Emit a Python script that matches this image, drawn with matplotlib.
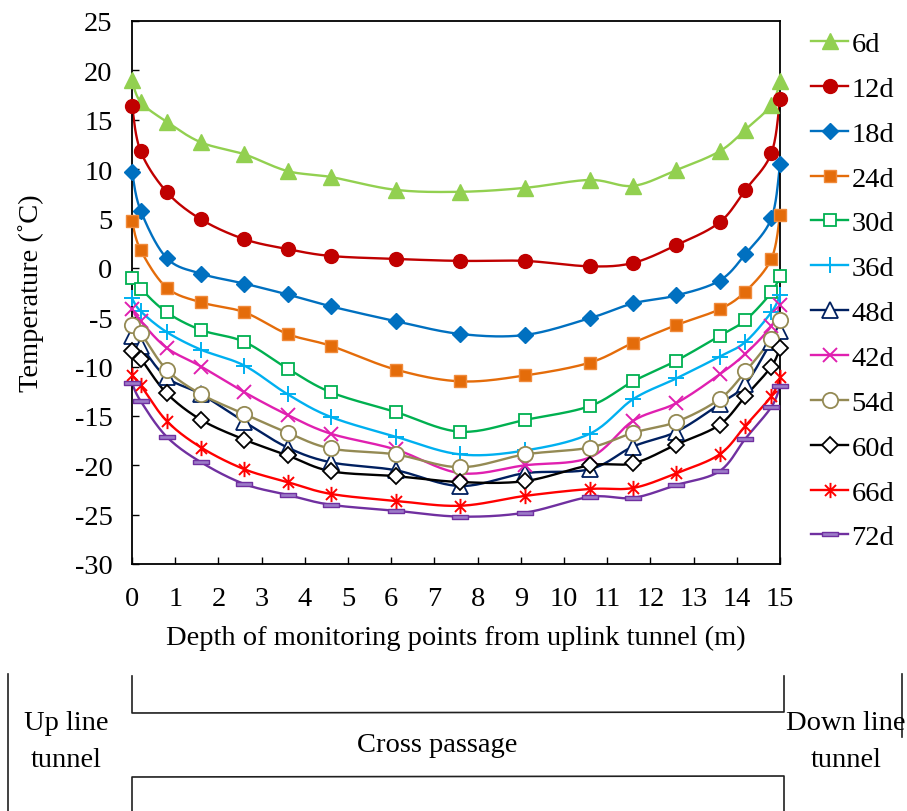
import numpy as np
import matplotlib
matplotlib.use("Agg")
import matplotlib.pyplot as plt
from matplotlib.path import Path
from matplotlib.lines import Line2D

plt.rcParams['font.family'] = ['Liberation Serif', 'DejaVu Serif']
plt.rcParams['axes.unicode_minus'] = False

depth = [0, 0.2, 0.8, 1.6, 2.6, 3.6, 4.6, 6.1, 7.6, 9.1, 10.6, 11.6, 12.6, 13.6, 14.2, 14.8, 15]

labels = ["6d", "12d", "18d", "24d", "30d", "36d", "48d", "42d", "54d", "60d", "66d", "72d"]

t6 = [19.0, 16.8, 14.8, 12.7, 11.5, 9.8, 9.2, 7.9, 7.7, 8.1, 8.9, 8.3, 9.9, 11.8, 14.0, 16.5, 18.9]
t12 = [16.4, 11.8, 7.7, 4.9, 2.9, 1.9, 1.2, 0.9, 0.7, 0.7, 0.15, 0.5, 2.3, 4.6, 7.9, 11.6, 17.1]
t18 = [9.7, 5.8, 1.0, -0.6, -1.6, -2.7, -3.9, -5.4, -6.7, -6.8, -5.1, -3.6, -2.8, -1.3, 1.4, 5.0, 10.5]
t24 = [4.7, 1.8, -2.0, -3.5, -4.5, -6.7, -7.9, -10.3, -11.5, -10.9, -9.6, -7.6, -5.8, -4.2, -2.4, 0.9, 5.3]
t30 = [-1.0, -2.1, -4.5, -6.3, -7.5, -10.2, -12.6, -14.6, -16.6, -15.4, -14.0, -11.5, -9.4, -6.9, -5.3, -2.5, -0.8]
t36 = [-3.1, -4.4, -6.5, -8.3, -9.9, -12.8, -15.1, -17.1, -18.9, -18.5, -16.8, -13.3, -11.2, -9.0, -7.5, -4.5, -2.8]
t48 = [-6.9, -7.9, -11.1, -12.8, -15.6, -18.2, -19.7, -20.5, -22.1, -20.8, -20.4, -18.1, -16.6, -13.8, -11.8, -7.5, -6.4]
t42 = [-4.2, -5.4, -8.1, -10.0, -12.6, -14.9, -16.8, -18.4, -20.8, -20.0, -19.2, -15.5, -13.7, -10.8, -8.7, -5.9, -3.8]
t54 = [-5.8, -6.6, -10.3, -12.8, -14.8, -16.7, -18.3, -18.9, -20.2, -18.9, -18.2, -16.7, -15.6, -13.3, -10.5, -7.2, -5.3]
t60 = [-8.4, -9.2, -12.7, -15.4, -17.4, -19.0, -20.6, -21.1, -21.7, -21.6, -20.0, -19.8, -17.9, -15.9, -13.0, -10.0, -8.1]
t66 = [-10.9, -11.9, -15.5, -18.2, -20.4, -21.7, -22.9, -23.6, -24.1, -23.1, -22.4, -22.3, -20.8, -18.9, -16.0, -13.0, -11.1]
t72 = [-11.7, -13.5, -17.1, -19.7, -21.9, -23.0, -24.0, -24.6, -25.2, -24.8, -23.2, -23.3, -22.0, -20.6, -17.3, -14.1, -12.0]

series = [t6, t12, t18, t24, t30, t36, t48, t42, t54, t60, t66, t72]

xticks = list(range(0, 16))
yticks = list(range(-30, 30, 5))

FS = 20.5

# marker shapes
star = Path([(0, -1), (0, 1), (-0.72, -0.72), (0.72, 0.72), (-0.72, 0.72), (0.72, -0.72)],
            [Path.MOVETO, Path.LINETO, Path.MOVETO, Path.LINETO, Path.MOVETO, Path.LINETO])
dash = Path([(-1, -0.3), (1, -0.3), (1, 0.3), (-1, 0.3), (-1, -0.3)],
            [Path.MOVETO, Path.LINETO, Path.LINETO, Path.LINETO, Path.CLOSEPOLY])

styles = [
    dict(color='#92D050', marker='^', ms=11, mfc='#92D050', mec='#92D050', mew=1),
    dict(color='#C00000', marker='o', ms=10, mfc='#C00000', mec='#C00000', mew=1),
    dict(color='#0070C0', marker='D', ms=8.5, mfc='#0070C0', mec='#0070C0', mew=1),
    dict(color='#E46C0A', marker='s', ms=9, mfc='#E46C0A', mec='#F08A3A', mew=1),
    dict(color='#00B050', marker='s', ms=9, mfc='white', mec='#00B050', mew=1.3),
    dict(color='#00B0F0', marker='+', ms=11, mfc='none', mec='#00B0F0', mew=1.4),
    dict(color='#002060', marker='^', ms=11, mfc='white', mec='#002060', mew=1.3),
    dict(color='#E020B0', marker='x', ms=9.5, mfc='none', mec='#E020B0', mew=1.4),
    dict(color='#948A54', marker='o', ms=11, mfc='white', mec='#948A54', mew=1.3),
    dict(color='#000000', marker='D', ms=8.5, mfc='white', mec='#000000', mew=1.3),
    dict(color='#FF0000', marker=star, ms=11, mfc='none', mec='#FF0000', mew=1.4),
    dict(color='#7030A0', marker=dash, ms=11, mfc='#9C7BC8', mec='#7030A0', mew=1),
]


def smooth(x, y, n=20):
    x = np.asarray(x, float)
    y = np.asarray(y, float)
    P = np.column_stack([x, y])
    m = len(P)
    out = []
    for i in range(m - 1):
        p0 = P[i - 1] if i > 0 else P[i]
        p1 = P[i]
        p2 = P[i + 1]
        p3 = P[i + 2] if i + 2 < m else P[i + 1]
        c1 = p1 + (p2 - p0) / 6.0
        c2 = p2 - (p3 - p1) / 6.0
        t = np.linspace(0, 1, n, endpoint=(i == m - 2))[:, None]
        b = ((1 - t) ** 3) * p1 + 3 * ((1 - t) ** 2) * t * c1 + 3 * (1 - t) * t ** 2 * c2 + t ** 3 * p2
        out.append(b)
    out = np.vstack(out)
    return out[:, 0], out[:, 1]


fig = plt.figure(figsize=(9.07, 8.12), dpi=100)
ax = fig.add_axes([132 / 907, 1 - 565 / 812, (780 - 132) / 907, (565 - 22) / 812])

handles = []
for lab, ys, st in zip(labels, series, styles):
    sx, sy = smooth(depth, ys)
    ax.plot(sx, sy, color=st['color'], lw=1.7, zorder=2)
    ax.plot(depth, ys, ls='none', marker=st['marker'], ms=st['ms'],
            mfc=st['mfc'], mec=st['mec'], mew=st['mew'], zorder=3, clip_on=False)
    handles.append(Line2D([0], [0], color=st['color'], lw=1.7, marker=st['marker'], ms=st['ms'],
                          mfc=st['mfc'], mec=st['mec'], mew=st['mew'], label=lab))

ax.set_xlim(0, 15)
ax.set_ylim(-30, 25)
ax.set_xticks(xticks)
ax.set_yticks(yticks)
ax.tick_params(direction='in', length=5, width=1, labelsize=FS)
ax.tick_params(axis='y', pad=14)
ax.tick_params(axis='x', pad=16)
for s in ax.spines.values():
    s.set_linewidth(1.3)
    s.set_color('black')
ax.set_xlabel("Depth of monitoring points from uplink tunnel (m)", fontsize=FS, labelpad=10)
ax.set_ylabel("Temperature (˚C)", fontsize=FS, labelpad=22)

fig.legend(handles=handles, loc='upper left', bbox_to_anchor=(811 / 907, 1 - 32 / 812),
           frameon=False, fontsize=FS, labelspacing=0.665, handlelength=1.3,
           handletextpad=0.12, borderpad=0, borderaxespad=0)

# bottom diagram
da = fig.add_axes([0, 0, 1, 1], zorder=-1)
da.set_xlim(0, 907)
da.set_ylim(812, 0)
da.axis('off')
lc = '#202020'
da.plot([8, 8], [675, 812], color=lc, lw=1.2)
da.plot([902, 902], [675, 738], color=lc, lw=1.2)
da.plot([132, 132, 784, 784], [677, 714, 713, 677], color=lc, lw=1.2)
da.plot([132, 132, 784, 784], [812, 778, 777, 812], color=lc, lw=1.2)
da.text(66, 742, "Up line\ntunnel", ha='center', va='center', fontsize=FS, linespacing=1.6)
da.text(437, 746, "Cross passage", ha='center', va='center', fontsize=FS)
da.text(846, 742, "Down line\ntunnel", ha='center', va='center', fontsize=FS, linespacing=1.6)

fig.savefig("out.png", dpi=100)
